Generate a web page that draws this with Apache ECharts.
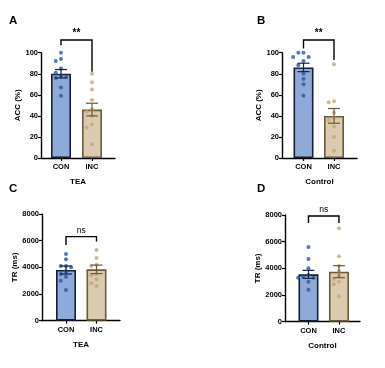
<!DOCTYPE html>
<html><head><meta charset="utf-8">
<script src="https://cdn.jsdelivr.net/npm/echarts@6/dist/echarts.min.js"></script>
<style>html,body{margin:0;padding:0;background:#fff}#c{width:385px;height:368px}</style>
</head><body><div id="c"></div>
<script>
// ---- data ----
const groups = ['CON', 'INC'];
const panelLetters = ['A', 'B', 'C', 'D'];
const xTitles = ['TEA', 'Control', 'TEA', 'Control'];
const yTitles = ['ACC (%)', 'ACC (%)', 'TR (ms)', 'TR (ms)'];
const accTicks = [0, 20, 40, 60, 80, 100];
const trTicks = [0, 2000, 4000, 6000, 8000];

const accTeaCon = [100, 94, 92, 85, 81, 78, 77, 76, 67, 59];
const accTeaInc = [80, 72, 65, 55, 46, 44, 40, 32, 29, 13];
const accTeaMean = [80, 46];
const accTeaSem = [4, 6];

const accCtlCon = [100, 100, 96, 96, 92, 88, 80, 75, 70, 59];
const accCtlInc = [89, 54, 53, 43, 38, 36, 30, 20, 7];
const accCtlMean = [86, 40];
const accCtlSem = [4, 7];

const trTeaCon = [5000, 4600, 4100, 4000, 4100, 3700, 3500, 3300, 3000, 2300];
const trTeaInc = [5300, 4700, 4200, 4100, 3500, 3400, 3100, 2800, 2600];
const trTeaMean = [3800, 3850];
const trTeaSem = [300, 320];

const trCtlCon = [5600, 4700, 4000, 3500, 3400, 3300, 3300, 3000, 2400];
const trCtlInc = [7000, 4900, 4200, 3800, 3400, 3200, 3000, 2800, 1900];
const trCtlMean = [3550, 3750];
const trCtlSem = [300, 450];

const sigLabels = ['**', '**', 'ns', 'ns'];
// bracket: [top, left leg end, right leg end]
const brackets = [[112, 107, 82], [112, 104, 93], [6300, 5680, 5930], [7925, 7400, 7400]];

// ---- layout ----
const panels = [
  {left: 41, top: 52.7, width: 74, height: 105.3, xmin: 0.355, xmax: 2.742, ticks: accTicks,
   pts: [accTeaCon, accTeaInc], mean: accTeaMean, sem: accTeaSem},
  {left: 282, top: 52.7, width: 75, height: 105.3, xmin: 0.295, xmax: 2.754, ticks: accTicks,
   pts: [accCtlCon, accCtlInc], mean: accCtlMean, sem: accCtlSem},
  {left: 42, top: 214, width: 78, height: 106.7, xmin: 0.213, xmax: 2.77, ticks: trTicks,
   pts: [trTeaCon, trTeaInc], mean: trTeaMean, sem: trTeaSem},
  {left: 285, top: 215, width: 75, height: 106.7, xmin: 0.23, xmax: 2.69, ticks: trTicks,
   pts: [trCtlCon, trCtlInc], mean: trCtlMean, sem: trCtlSem}
];

const FONT = 'Liberation Sans';
const barFill = ['#8eaad8', '#dccbaf'];
const barEdge = ['#14203a', '#6e5838'];
const dotColor = ['#2957a0', '#c3a574'];

function swarm(vals, range) {
  const thr = range * 0.045;
  const placed = [];
  const order = vals.map((v, i) => i).sort((a, b) => vals[b] - vals[a]);
  const offs = [0, -0.17, 0.17, -0.34, 0.34];
  const out = new Array(vals.length);
  order.forEach(i => {
    const v = vals[i];
    for (const o of offs) {
      if (!placed.some(p => Math.abs(p[0] - o) < 0.1 && Math.abs(p[1] - v) < thr)) {
        placed.push([o, v]); out[i] = o; break;
      }
    }
    if (out[i] === undefined) { out[i] = 0; }
  });
  return out;
}

const grid = [], xAxis = [], yAxis = [], series = [], graphic = [];
panels.forEach((p, k) => {
  const ymax = p.ticks[p.ticks.length - 1];
  const interval = p.ticks[1] - p.ticks[0];
  grid.push({left: p.left, top: p.top, width: p.width, height: p.height, containLabel: false});
  xAxis.push({
    gridIndex: k, type: 'value', min: p.xmin, max: p.xmax,
    name: xTitles[k], nameLocation: 'middle', nameGap: 20,
    nameTextStyle: {fontFamily: FONT, fontWeight: 'bold', fontSize: 8, color: '#000'},
    axisLine: {show: true, lineStyle: {color: '#000', width: 1.4}},
    axisTick: {show: true, length: 3, customValues: [1, 2], lineStyle: {color: '#000', width: 1.2}},
    axisLabel: {show: true, customValues: [1, 2], formatter: v => groups[Math.round(v) - 1] || '',
      fontFamily: FONT, fontWeight: 'bold', fontSize: 7.5, color: '#000', margin: 5},
    splitLine: {show: false}
  });
  yAxis.push({
    gridIndex: k, type: 'value', min: 0, max: ymax, interval: interval,
    name: yTitles[k], nameLocation: 'middle', nameGap: k < 2 ? 17 : 23, nameRotate: 90,
    nameTextStyle: {fontFamily: FONT, fontWeight: 'bold', fontSize: 8, color: '#000'},
    axisLine: {show: true, lineStyle: {color: '#000', width: 1.4}},
    axisTick: {show: true, length: 3, lineStyle: {color: '#000', width: 1.2}},
    axisLabel: {fontFamily: FONT, fontWeight: 'bold', fontSize: 7.5, color: '#000', margin: 3,
      formatter: v => String(v)},
    splitLine: {show: false}
  });
  // bars
  series.push({
    type: 'bar', xAxisIndex: k, yAxisIndex: k, barWidth: 20, z: 2,
    data: p.mean.map((m, g) => ({value: [g + 1, m],
      itemStyle: {color: barFill[g], borderColor: barEdge[g], borderWidth: 1.6}}))
  });
  // dots
  p.pts.forEach((vals, g) => {
    const off = swarm(vals, ymax);
    series.push({
      type: 'scatter', xAxisIndex: k, yAxisIndex: k, symbolSize: 4, z: 4,
      itemStyle: {color: dotColor[g]},
      data: vals.map((v, i) => [g + 1 + off[i], v])
    });
  });
  // error bars
  series.push({
    type: 'custom', xAxisIndex: k, yAxisIndex: k, z: 5, clip: false,
    data: p.mean.map((m, g) => [g + 1, m, p.sem[g]]),
    renderItem: (params, api) => {
      const x = api.value(0), m = api.value(1), s = api.value(2);
      const g = params.dataIndex;
      const hi = api.coord([x, m + s]), lo = api.coord([x, m - s]);
      const st = {stroke: barEdge[g], lineWidth: 1.2};
      return {type: 'group', children: [
        {type: 'line', shape: {x1: hi[0], y1: hi[1], x2: lo[0], y2: lo[1]}, style: st},
        {type: 'line', shape: {x1: hi[0] - 6, y1: hi[1], x2: hi[0] + 6, y2: hi[1]}, style: st},
        {type: 'line', shape: {x1: lo[0] - 6, y1: lo[1], x2: lo[0] + 6, y2: lo[1]}, style: st}
      ]};
    }
  });
  // significance bracket
  const b = brackets[k];
  series.push({
    type: 'custom', xAxisIndex: k, yAxisIndex: k, z: 5, clip: false,
    data: [[1, 2, b[0], b[1], b[2]]],
    renderItem: (params, api) => {
      const tl = api.coord([api.value(0), api.value(2)]);
      const tr = api.coord([api.value(1), api.value(2)]);
      const bl = api.coord([api.value(0), api.value(3)]);
      const br = api.coord([api.value(1), api.value(4)]);
      const isStar = sigLabels[k] === '**';
      return {type: 'group', children: [
        {type: 'polyline', shape: {points: [bl, tl, tr, br]},
          style: {stroke: '#000', lineWidth: 1.4, fill: null}},
        {type: 'text', x: (tl[0] + tr[0]) / 2, y: tl[1] - 2,
          style: {text: sigLabels[k], align: 'center', verticalAlign: 'bottom',
            fontFamily: FONT, fontWeight: isStar ? 'bold' : 'normal',
            fontSize: isStar ? 10 : 8.5, fill: '#000'}}
      ]};
    }
  });
});

const letterPos = [[9, 15], [257, 15], [9, 183], [257, 183]];
panelLetters.forEach((L, k) => {
  graphic.push({type: 'text', left: letterPos[k][0], top: letterPos[k][1],
    style: {text: L, fontFamily: FONT, fontWeight: 'bold', fontSize: 11.5, fill: '#000'}});
});

const chart = echarts.init(document.getElementById('c'), null, {renderer: 'canvas'});
chart.setOption({animation: false, backgroundColor: '#fff', grid, xAxis, yAxis, series, graphic});
</script>
</body></html>
